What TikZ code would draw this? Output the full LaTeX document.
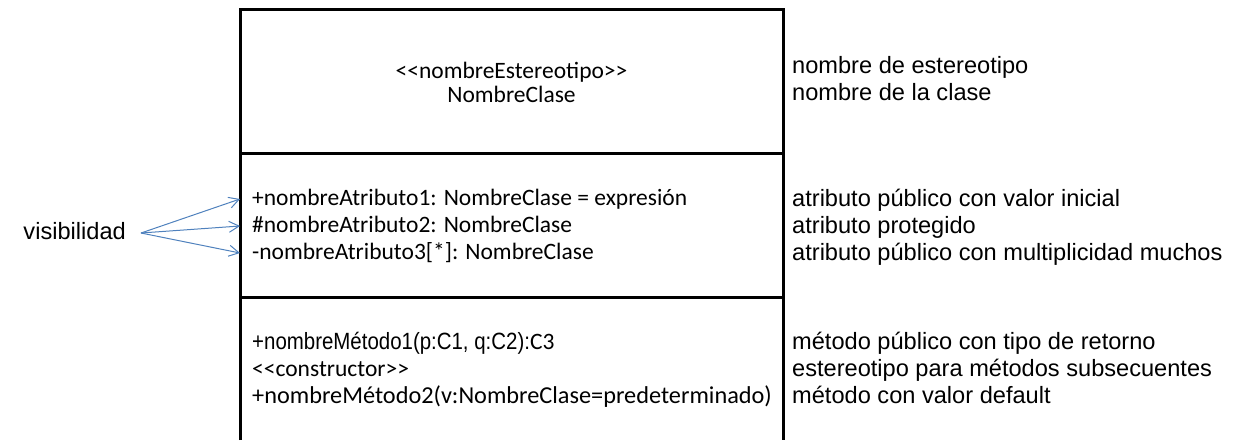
\documentclass[tikz,border=0pt]{standalone}
\usepackage{fontspec}
\setmainfont{Carlito}
\newfontfamily\arialfont{Liberation Sans}
\newfontfamily\narrowfont{Liberation Sans}[FakeStretch=0.87]
\usetikzlibrary{arrows.meta}
\definecolor{visblue}{RGB}{79,129,189}

\begin{document}
\begin{tikzpicture}[x=1pt,y=-1pt,
  box/.style={line width=3pt},
  txt/.style={inner ysep=0pt,text height=17pt,text depth=5pt,font=\fontsize{23.5}{26}\selectfont},
  cell/.style={txt,anchor=west,inner xsep=12pt},
  note/.style={txt,anchor=west,inner xsep=0pt,font=\arialfont\fontsize{23.6}{26}\selectfont},
  visarrow/.style={visblue,line width=1pt,-{Straight Barb[length=10pt,width=11pt]}}]
%\draw[style=help lines] (0,0) grid[step=50] (1236,440);
\useasboundingbox (0,0) rectangle (1236,440);

\draw[box] (240,440) -- (240,9.5) -- (783,9.5) -- (783,440);
\draw[box] (240,153) -- (783,153);
\draw[box] (240,297) -- (783,297);

\node[txt] (stereo) at (511.5,72) {<{}<nombreEstereotipo>{}>};
\node[txt] (clsname) at (511.5,96) {NombreClase};
\node[note] (noteStereo) at (792,67) {nombre de estereotipo};
\node[note] (noteClass) at (792,94) {nombre de la clase};

\node[cell] (attrA) at (240,199) {+nombreAtributo1: NombreClase = expresión};
\node[cell] (attrB) at (240,226) {\#nombreAtributo2: NombreClase};
\node[cell] (attrC) at (240,253) {-nombreAtributo3[*]: NombreClase};
\node[note] (noteA) at (792,200) {atributo público con valor inicial};
\node[note] (noteB) at (792,227) {atributo protegido};
\node[note] (noteC) at (792,254) {atributo público con multiplicidad muchos};

\node[cell] (methA) at (240,343) {{\narrowfont +nombreMétodo1(p:C1, q:C2):}C3};
\node[cell] (methB) at (240,370) {<{}<constructor>{}>};
\node[cell,font=\fontsize{24.3}{26}\selectfont] (methC) at (240,397) {+nombreMétodo2(v:NombreClase=predeterminado)};
\node[note] (noteD) at (792,343) {método público con tipo de retorno};
\node[note] (noteE) at (792,370) {estereotipo para métodos subsecuentes};
\node[note] (noteF) at (792,397) {método con valor default};

\node[note,anchor=east,inner xsep=15pt] (vis) at (141,233) {visibilidad};
\draw[visarrow] (vis.east) -- (attrA.west);
\draw[visarrow] (vis.east) -- (attrB.west);
\draw[visarrow] (vis.east) -- (attrC.west);

\end{tikzpicture}
\end{document}
